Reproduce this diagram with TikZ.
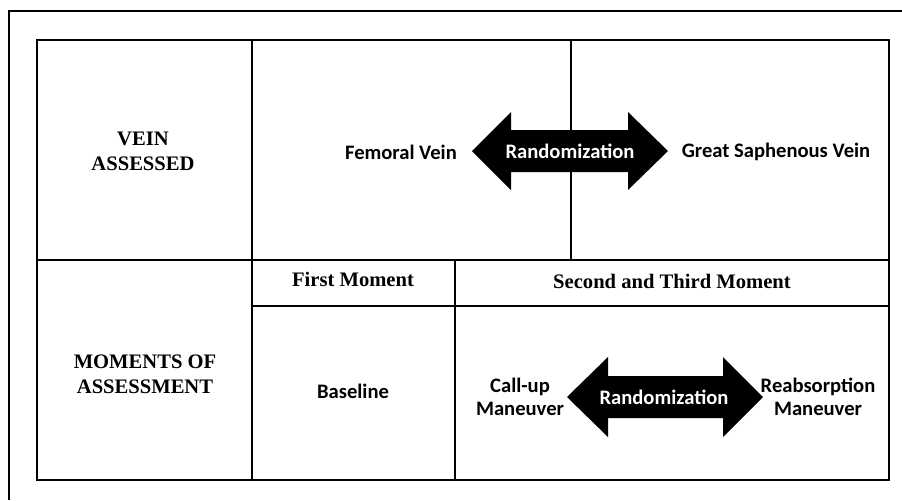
\documentclass[tikz,border=0pt]{standalone}
\usepackage{fontspec}
\setmainfont{Liberation Serif}
\newfontfamily\calibri{Carlito}
\usepackage{tikz}

\tikzset{
  head/.style={font=\fontsize{10.3}{12.5}\selectfont\bfseries, align=center},
  item/.style={font=\calibri\fontsize{10.3}{11.5}\selectfont\bfseries, align=center},
  rand/.style={item, text=white}
}

\begin{document}
\begin{tikzpicture}[x=0.5pt, y=-0.5pt]
\useasboundingbox (0,0) rectangle (902,500);

% Cadre extérieur
\draw[line width=1pt] (9,500) -- (9,11) -- (902,11);

% Tableau
\draw[line width=1.4pt] (37,40) rectangle (889,480);
\draw[line width=1.4pt] (252,40) -- (252,480);
\draw[line width=1.4pt] (37,260) -- (889,260);
\draw[line width=1.4pt] (571,40) -- (571,260);
\draw[line width=1.4pt] (455,260) -- (455,480);
\draw[line width=1.4pt] (252,306) -- (889,306);

% Flèche 1
\fill (472,151) -- (511,112) -- (511,130) -- (628,130) -- (628,112) -- (668,151)
  -- (628,190) -- (628,172) -- (511,172) -- (511,190) -- cycle;

% Flèche 2
\fill (567,397) -- (608,357) -- (608,376) -- (723,376) -- (723,357) -- (763,397)
  -- (723,437) -- (723,418) -- (608,418) -- (608,437) -- cycle;

% En-têtes
\node[head] (vein) at (143,151) {VEIN\\ASSESSED};
\node[head] (moments) at (145,374) {MOMENTS OF\\ASSESSMENT};
\node[head] (first) at (353,279) {First Moment};
\node[head] (second) at (672,281) {Second and Third Moment};

% Veines
\node[item] (femoral) at (401,152) {Femoral Vein};
\node[rand] (rand1) at (570,151) {Randomization};
\node[item] (saphenous) at (776,152) {Great Saphenous Vein};

% Manoeuvres
\node[item] (baseline) at (353,391) {Baseline};
\node[item] (callup) at (520,397) {Call-up\\Maneuver};
\node[rand] (rand2) at (664,397) {Randomization};
\node[item] (reabs) at (818,397) {Reabsorption\\Maneuver};

\end{tikzpicture}
\end{document}
